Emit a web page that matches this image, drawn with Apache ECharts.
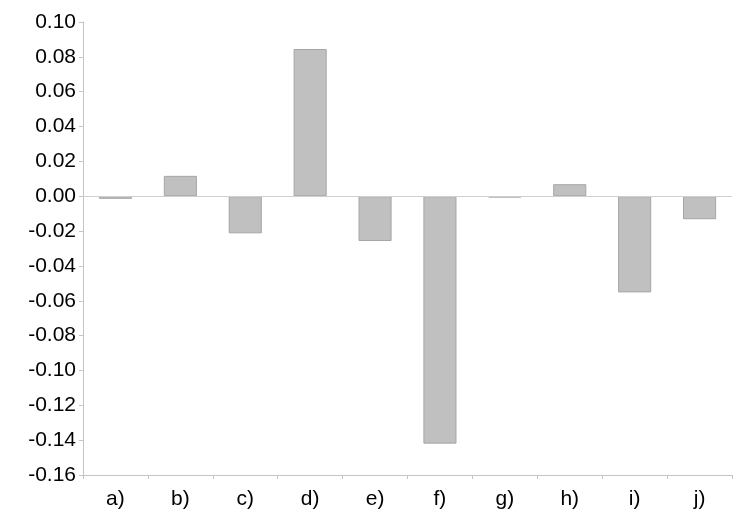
<!DOCTYPE html>
<html><head><meta charset="utf-8">
<script src="https://cdn.jsdelivr.net/npm/echarts@6/dist/echarts.min.js"></script>
<style>html,body{margin:0;padding:0;background:#fff}#c{width:747px;height:522px}</style>
</head><body><div id="c"></div>
<script>
const categories = ['a)', 'b)', 'c)', 'd)', 'e)', 'f)', 'g)', 'h)', 'i)', 'j)'];
const values = [-0.0015, 0.0117, -0.0213, 0.0845, -0.0257, -0.142, -0.0008, 0.0069, -0.0552, -0.0132];
const yMin = -0.16, yMax = 0.10, yStep = 0.02;

const chart = echarts.init(document.getElementById('c'));
chart.setOption({
  animation: false,
  grid: { left: 83, right: 15, top: 22, bottom: 47 },
  xAxis: {
    type: 'category', data: categories,
    axisLine: { onZero: false, lineStyle: { color: '#c4c4c4', width: 1 } },
    axisTick: { show: true, length: 4, alignWithLabel: false, lineStyle: { color: '#c4c4c4' } },
    axisLabel: { color: '#000', fontSize: 21, fontFamily: 'Liberation Sans, Arial, sans-serif', margin: 14 },
    splitLine: { show: false }
  },
  yAxis: {
    type: 'value', min: yMin, max: yMax, interval: yStep,
    axisLine: { show: true, lineStyle: { color: '#c4c4c4', width: 1 } },
    axisTick: { show: true, length: 4, lineStyle: { color: '#c4c4c4' } },
    axisLabel: { color: '#000', fontSize: 21, fontFamily: 'Liberation Sans, Arial, sans-serif', margin: 7,
      formatter: v => v.toFixed(2) },
    splitLine: { show: false }
  },
  series: [{
    type: 'bar', data: values, barWidth: '51%',
    itemStyle: { color: '#c0c0c0', borderColor: '#a6a6a6', borderWidth: 1 },
    markLine: {
      silent: true, symbol: 'none', label: { show: false },
      lineStyle: { color: '#cfcfcf', width: 1, type: 'solid' },
      data: [{ yAxis: 0 }]
    }
  }]
});
</script></body></html>
